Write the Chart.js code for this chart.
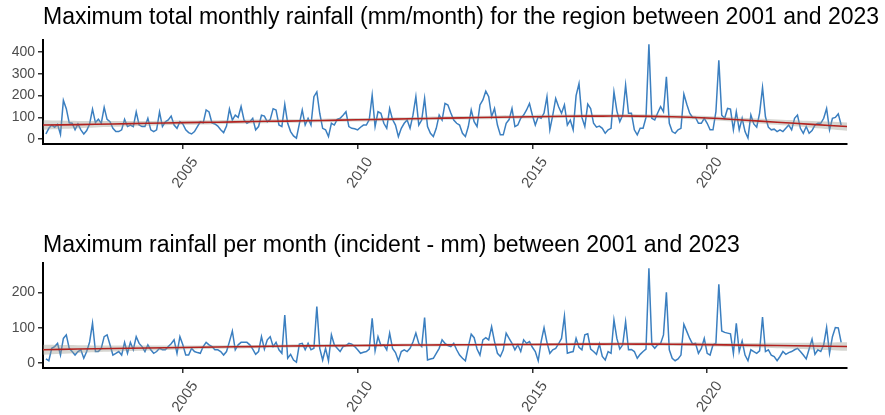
<!DOCTYPE html>
<html>
<head>
<meta charset="utf-8">
<script src="https://cdn.jsdelivr.net/npm/chart.js@4.4.1/dist/chart.umd.min.js"></script>
<style>
  body { margin: 0; background: #fff; width: 885px; height: 415px; overflow: hidden; position: relative; }
  .panel { position: absolute; left: 0; width: 885px; }
  .title { position: absolute; left: 43px; font-family: 'Liberation Sans', Arial, sans-serif; font-size: 23px; line-height: normal; color: #000; white-space: nowrap; z-index: 2; }
</style>
</head>
<body>
<div class="title" id="t1" style="top:3px">Maximum total monthly rainfall (mm/month) for the region between 2001 and 2023</div>
<div class="panel" style="top:0;height:215px"><canvas id="totalChart"></canvas></div>
<div class="title" id="t2" style="top:231px">Maximum rainfall per month (incident - mm) between 2001 and 2023</div>
<div class="panel" style="top:223px;height:192px"><canvas id="dayChart"></canvas></div>
<script>
// monthly series, Feb 2001 .. Nov 2023
const startYear = 2001;

const monthlyTotal = [
    24, 50, 65, 55, 68, 22, 178, 140, 75, 73,
    43, 70, 43, 24, 40, 70, 138, 76, 92, 73,
    146, 91, 80, 50, 35, 35, 43, 91, 58, 65,
    58, 125, 65, 58, 58, 96, 43, 35, 43, 125,
    58, 80, 88, 106, 65, 50, 80, 70, 43, 30,
    24, 35, 58, 80, 75, 134, 125, 75, 70, 60,
    43, 30, 60, 138, 88, 110, 100, 150, 88, 73,
    80, 96, 43, 58, 110, 106, 80, 90, 140, 134,
    65, 58, 160, 73, 35, 15, 5, 70, 134, 65,
    96, 65, 195, 217, 119, 50, 43, 12, 73, 65,
    91, 96, 110, 126, 58, 50, 48, 43, 55, 65,
    65, 90, 202, 58, 126, 119, 73, 50, 141, 90,
    65, 12, 50, 73, 88, 50, 110, 195, 65, 88,
    187, 58, 27, 12, 50, 111, 88, 164, 157, 120,
    88, 73, 65, 27, 12, 58, 134, 80, 58, 157,
    180, 220, 195, 103, 141, 65, 20, 20, 73, 90,
    141, 58, 65, 96, 111, 134, 164, 110, 65, 103,
    96, 120, 195, 43, 110, 187, 149, 119, 157, 65,
    88, 43, 200, 255, 100, 58, 161, 141, 73, 55,
    60, 50, 27, 43, 50, 217, 130, 80, 111, 248,
    119, 119, 43, 20, 50, 50, 100, 435, 96, 88,
    120, 149, 126, 286, 73, 35, 27, 43, 50, 207,
    160, 119, 100, 100, 73, 73, 96, 73, 43, 43,
    126, 362, 110, 96, 141, 138, 43, 126, 43, 96,
    35, 5, 111, 70, 55, 120, 237, 103, 55, 43,
    46, 35, 43, 35, 50, 65, 43, 96, 111, 50,
    27, 58, 27, 40, 65, 73, 73, 96, 141, 43,
    96, 100, 116, 65
];

const monthlyMaxDay = [
    12, 7, 42, 47, 56, 23, 70, 80, 42, 33,
    23, 33, 38, 14, 33, 60, 113, 33, 33, 42,
    75, 80, 52, 23, 28, 33, 23, 59, 28, 59,
    38, 75, 56, 47, 33, 52, 38, 28, 33, 42,
    38, 38, 47, 55, 66, 28, 75, 52, 23, 23,
    42, 33, 30, 28, 47, 59, 52, 47, 38, 38,
    33, 23, 33, 61, 91, 38, 52, 59, 59, 59,
    52, 40, 25, 33, 75, 40, 66, 75, 47, 59,
    38, 28, 136, 14, 25, 9, 3, 54, 56, 38,
    56, 38, 42, 160, 42, 9, 42, 7, 80, 52,
    42, 33, 47, 50, 56, 54, 47, 38, 28, 31,
    33, 40, 127, 35, 75, 50, 52, 38, 85, 42,
    30, 7, 33, 38, 33, 42, 60, 85, 56, 47,
    129, 9, 12, 14, 28, 42, 66, 56, 50, 47,
    56, 38, 23, 14, 7, 47, 82, 72, 40, 23,
    66, 72, 66, 103, 61, 28, 19, 38, 85, 70,
    56, 38, 52, 33, 66, 56, 61, 45, 33, 7,
    61, 100, 59, 28, 38, 42, 55, 70, 133, 28,
    31, 33, 70, 45, 38, 80, 83, 40, 33, 25,
    54, 19, 9, 33, 28, 122, 70, 40, 52, 117,
    38, 39, 33, 14, 25, 33, 40, 268, 52, 42,
    52, 55, 80, 200, 38, 14, 7, 12, 23, 110,
    90, 70, 54, 56, 28, 42, 70, 28, 23, 52,
    56, 223, 91, 87, 85, 83, 28, 113, 33, 63,
    23, 7, 38, 33, 28, 35, 130, 33, 38, 23,
    19, 7, 19, 33, 25, 30, 33, 38, 42, 33,
    23, 12, 40, 68, 25, 38, 33, 52, 101, 28,
    75, 101, 100, 59
];

// smoothed trend (loess) and its confidence band, read at each January
const trendYears = [2001, 2002, 2003, 2004, 2005, 2006, 2007, 2008, 2009, 2010, 2011, 2012,
    2013, 2014, 2015, 2016, 2017, 2018, 2019, 2020, 2021, 2022, 2023, 2024];
const totalTrend = [65, 67, 70, 73, 76, 78, 81, 83, 86, 89, 92, 95, 98, 101, 103, 105, 106, 106, 103, 97, 88, 78, 68, 58];
const totalLow = [43, 50, 57, 62, 66, 69, 72, 75, 78, 81, 84, 87, 90, 93, 95, 97, 98, 97, 94, 88, 78, 66, 53, 39];
const totalHigh = [87, 84, 83, 84, 86, 87, 90, 91, 94, 97, 100, 103, 106, 109, 111, 113, 114, 115, 112, 106, 98, 90, 83, 77];
const dayTrend = [38, 40, 41.5, 43, 44.5, 46, 47, 48.5, 49.5, 50, 51, 51.5, 52, 52.5, 53, 53.5, 54, 54, 53.5, 52.5, 51, 50, 48.5, 47];
const dayLow = [24, 29, 33, 36, 39, 41, 42.5, 44, 45, 46, 47, 47.5, 48, 48.5, 49, 49, 49.5, 49, 48.5, 47, 45, 42.5, 39, 35];
const dayHigh = [52, 51, 50, 50, 50, 51, 51.5, 53, 54, 54, 55, 55.5, 56, 56.5, 57, 58, 58.5, 59, 58.5, 58, 57, 57.5, 58, 59];

const yearTicks = [2005, 2010, 2015, 2020];
const totalYTicks = [0, 100, 200, 300, 400];
const dayYTicks = [0, 100, 200];

const FONT = "'Liberation Sans', Arial, sans-serif";

function pts(xs, ys) {
    return ys.map((y, i) => ({ x: xs[i], y: y }));
}

function buildChart(id, values, trend, low, high, yTicks, yMin, yMax, xAxisHeight) {
    const monthX = values.map((_, i) => startYear + (i + 1) / 12);
    return new Chart(document.getElementById(id), {
        type: 'line',
        data: {
            datasets: [
                {
                    data: pts(trendYears, trend),
                    borderColor: '#b2221f',
                    borderWidth: 1.6,
                    pointRadius: 0,
                    tension: 0.4,
                    fill: false
                },
                {
                    data: pts(trendYears, high),
                    borderWidth: 0,
                    borderColor: 'rgba(0,0,0,0)',
                    backgroundColor: 'rgba(153,153,140,0.4)',
                    pointRadius: 0,
                    tension: 0.4,
                    fill: '+1'
                },
                {
                    data: pts(trendYears, low),
                    borderWidth: 0,
                    borderColor: 'rgba(0,0,0,0)',
                    pointRadius: 0,
                    tension: 0.4,
                    fill: false
                },
                {
                    data: pts(monthX, values),
                    borderColor: '#3b7fc0',
                    borderWidth: 1.5,
                    pointRadius: 0,
                    tension: 0,
                    fill: false
                }
            ]
        },
        options: {
            responsive: true,
            maintainAspectRatio: false,
            animation: false,
            layout: { padding: { left: 0, right: 38, top: 40, bottom: 0 } },
            plugins: { legend: { display: false }, tooltip: { enabled: false } },
            scales: {
                x: {
                    type: 'linear',
                    min: 2001,
                    max: 2024,
                    afterBuildTicks: (s) => { s.ticks = yearTicks.map(v => ({ value: v })); },
                    afterFit: (s) => { s.height = xAxisHeight; },
                    grid: { drawOnChartArea: false, drawTicks: true, tickLength: 5, color: '#333', lineWidth: 1.5 },
                    border: { display: true, color: '#000', width: 2 },
                    ticks: {
                        minRotation: 55,
                        maxRotation: 55,
                        padding: 5,
                        labelOffset: 12,
                        color: '#4d4d4d',
                        font: { family: FONT, size: 15 },
                        callback: (v) => String(v)
                    }
                },
                y: {
                    min: yMin,
                    max: yMax,
                    afterBuildTicks: (s) => { s.ticks = yTicks.map(v => ({ value: v })); },
                    afterFit: (s) => { s.width = 43; },
                    grid: { drawOnChartArea: false, drawTicks: true, tickLength: 5, color: '#333', lineWidth: 1.5 },
                    border: { display: true, color: '#000', width: 2 },
                    ticks: {
                        padding: 3,
                        color: '#4d4d4d',
                        font: { family: FONT, size: 14 },
                        callback: (v) => String(v)
                    }
                }
            }
        }
    });
}

buildChart('totalChart', monthlyTotal, totalTrend, totalLow, totalHigh, totalYTicks, -22, 455, 71);
buildChart('dayChart', monthlyMaxDay, dayTrend, dayLow, dayHigh, dayYTicks, -13.5, 283, 47);
</script>
</body>
</html>
